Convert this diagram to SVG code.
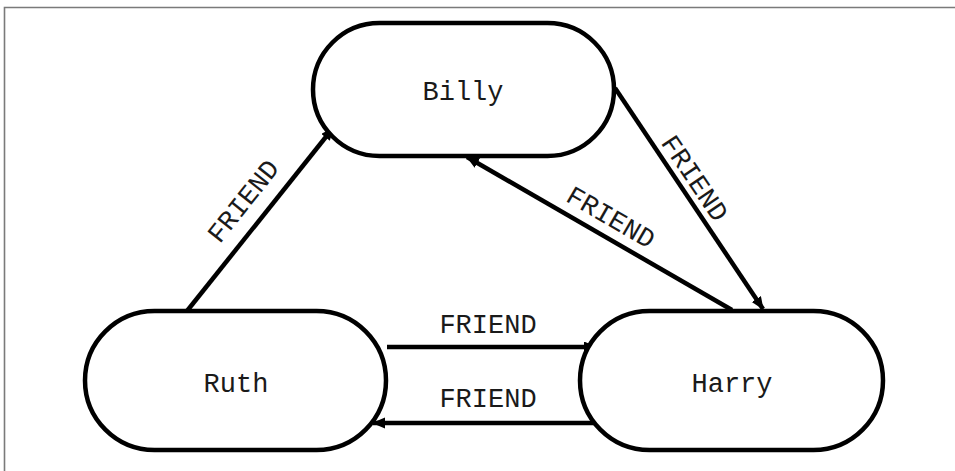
<svg xmlns="http://www.w3.org/2000/svg" width="955" height="471" viewBox="0 0 955 471">
  <defs>
    <marker id="arrow" markerUnits="userSpaceOnUse" markerWidth="14" markerHeight="12" refX="12" refY="5.5" orient="auto">
      <path d="M0,0 L13,5.5 L0,11 z" fill="#000"/>
    </marker>
    <style>
      .node rect { fill: #fff; stroke: #000; stroke-width: 4.5; }
      .node text, .label { font-family: "Liberation Mono", "Courier New", monospace; font-size: 27px; fill: #1a1a1a; text-anchor: middle; }
      .edge { stroke: #000; stroke-width: 4.5; fill: none; marker-end: url(#arrow); }
      .frame { stroke: #7a7a7a; stroke-width: 1.6; fill: none; }
    </style>
  </defs>

  <rect width="955" height="471" fill="#fff"/>
  <path class="frame" d="M4.5,471 L4.5,7.5 L955,7.5"/>

  <g id="connectors">
    <line class="edge" x1="187" y1="311" x2="333" y2="128"/>
    <line class="edge" x1="615" y1="88" x2="763" y2="309"/>
    <line class="edge" x1="732" y1="310" x2="467" y2="157"/>
    <line class="edge" x1="387" y1="347" x2="596" y2="347"/>
    <line class="edge" x1="596" y1="423" x2="373" y2="423"/>
    <text class="label" transform="translate(243,201) rotate(-51.4)" y="9">FRIEND</text>
    <text class="label" transform="translate(695,178) rotate(56)" y="9">FRIEND</text>
    <text class="label" transform="translate(611,217) rotate(30)" y="9">FRIEND</text>
    <text class="label" x="488" y="333">FRIEND</text>
    <text class="label" x="488" y="407">FRIEND</text>
  </g>

  <g id="billy" class="node">
    <rect x="313" y="23" width="301" height="133" rx="66.5"/>
    <text x="463" y="100">Billy</text>
  </g>
  <g id="ruth" class="node">
    <rect x="85" y="311" width="301" height="139" rx="69.5"/>
    <text x="236" y="392">Ruth</text>
  </g>
  <g id="harry" class="node">
    <rect x="580" y="311" width="303" height="139" rx="69.5"/>
    <text x="732" y="392">Harry</text>
  </g>
</svg>
